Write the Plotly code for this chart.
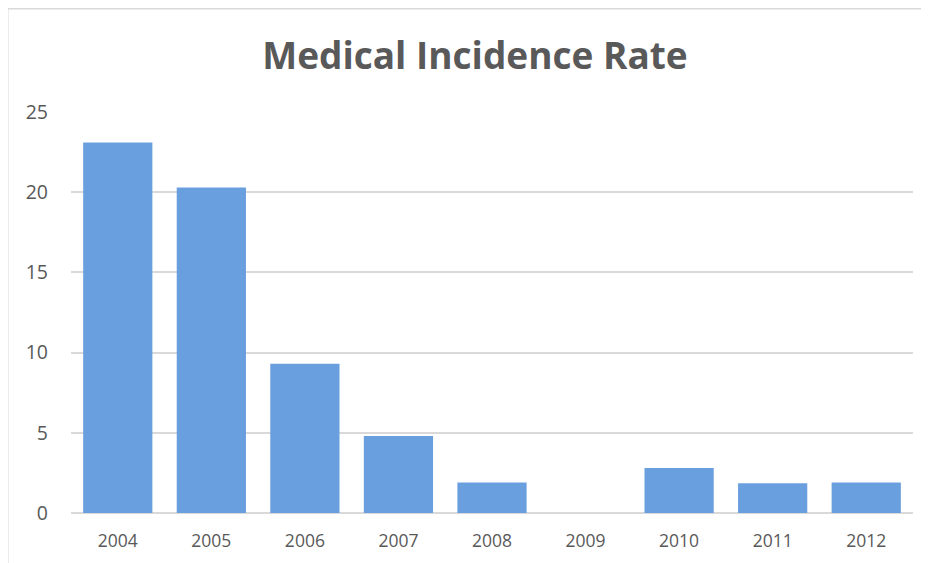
import plotly.graph_objects as go

years = ["2004", "2005", "2006", "2007", "2008", "2009", "2010", "2011", "2012"]
rates = [23.1, 20.3, 9.3, 4.8, 1.9, 0, 2.8, 1.85, 1.9]
y_ticks = [0, 5, 10, 15, 20, 25]

# page is offset by 8px body margin, so figure coords = page coords - 8
L, R, T, B = 63, 24, 104, 58
W, H = 929, 563
pw, ph = W - L - R, H - T - B

fig = go.Figure(go.Bar(
    x=years, y=rates,
    marker=dict(color="#6a9fdf", line=dict(width=0)),
    width=0.74,
))

def px_x(p):
    return (p - L) / pw

def px_y(p):
    return (H - B - p) / ph

fig.update_layout(
    width=W, height=H,
    margin=dict(l=L, r=R, t=T, b=B),
    paper_bgcolor="white", plot_bgcolor="white",
    title=dict(text="<b>Medical Incidence Rate</b>", x=(467 - L) / pw, xref="paper", xanchor="center",
               y=1 - 48 / H, yanchor="middle",
               font=dict(family="Open Sans", size=37, color="#595959")),
    font=dict(family="Open Sans", color="#595959"),
    showlegend=False,
    xaxis=dict(type="category", showgrid=False, showline=False, ticks="",
               tickfont=dict(size=17.5, color="#595959"), ticklabelstandoff=15),
    yaxis=dict(range=[0, 25], tickvals=y_ticks, showgrid=True, gridcolor="#d9d9d9", gridwidth=1.5,
               zeroline=True, zerolinecolor="#d9d9d9", zerolinewidth=1.5, showline=False, ticks="",
               tickfont=dict(size=19.5, color="#595959"), ticklabelstandoff=22),
    shapes=[
        dict(type="line", xref="paper", yref="paper", x0=px_x(-1), x1=px_x(940), y0=px_y(0.75), y1=px_y(0.75),
             line=dict(color="#d9d9d9", width=1.5)),
        dict(type="line", xref="paper", yref="paper", x0=px_x(-0.25), x1=px_x(-0.25), y0=px_y(0), y1=px_y(570),
             line=dict(color="#d9d9d9", width=1.5)),
    ],
)

fig.write_html("out.html")
